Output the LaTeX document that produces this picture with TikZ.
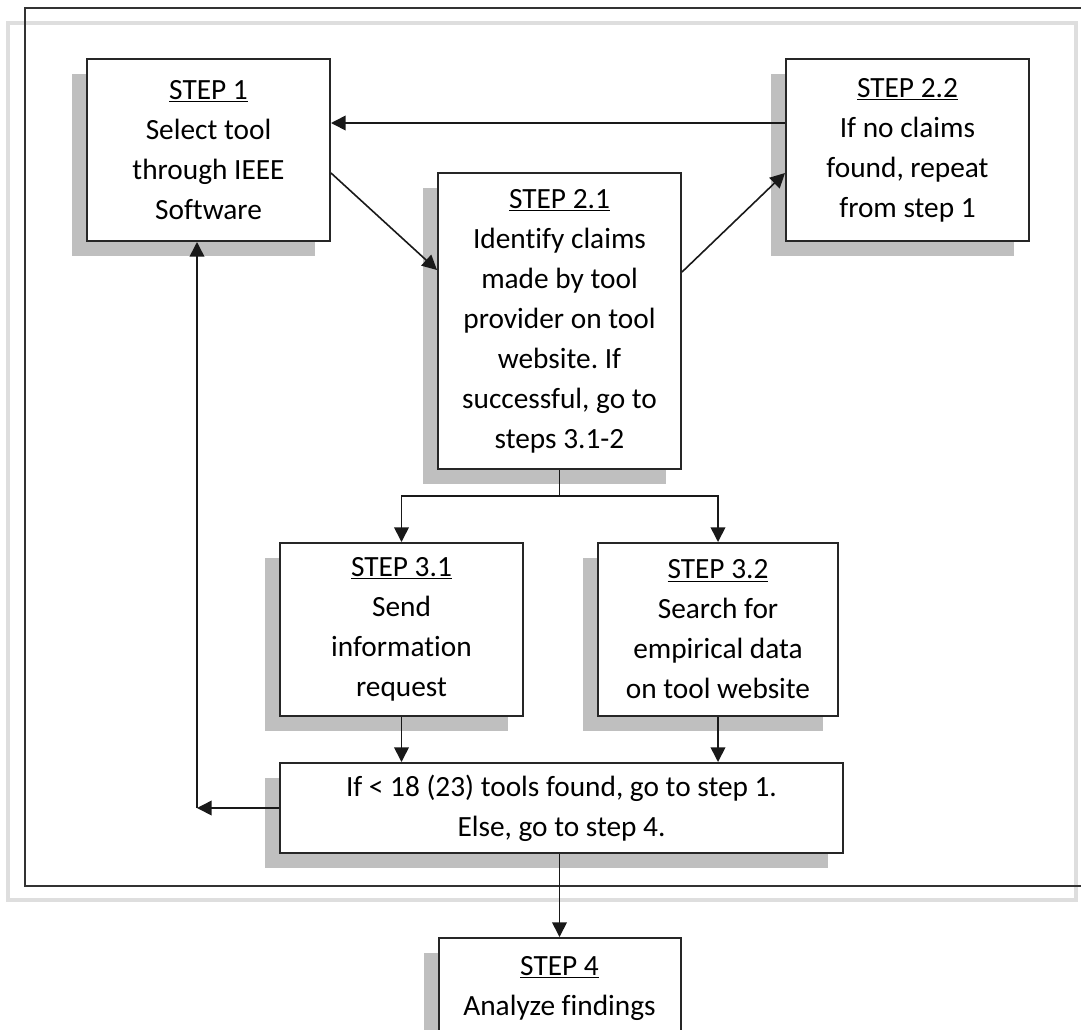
\documentclass[tikz,border=0pt]{standalone}
\usepackage{fontspec}
\setmainfont{Carlito}[Ligatures=CommonOff]
\usetikzlibrary{arrows.meta,shadows}
\frenchspacing

\begin{document}
\begin{tikzpicture}[x=0.75pt, y=-0.75pt]
\tikzset{ >={Triangle[length=11pt,width=11pt]},
  box/.style={draw=black!85, line width=1.5pt, fill=white, align=center, inner sep=0pt,
    font=\fontsize{22}{30}\selectfont,
    drop shadow={shadow xshift=-11.25pt, shadow yshift=-11.25pt, fill=black!25, opacity=1}},
  wire/.style={line width=1.2pt, black!90},
}

\useasboundingbox (0,0) rectangle (1081,1029);

% frames
\draw [black!13, line width=2.5pt] (8,23) rectangle (1076,900);
\draw [black!80, line width=1.6pt] (25,8) rectangle (1100,886);

\node [box, minimum width=182.25pt, minimum height=136.5pt] (S1) at (208.5,150)
  {\underline{STEP 1}\\Select tool\\through IEEE\\Software};
\node [box, minimum width=182.25pt, minimum height=136.5pt] (S22) at (907.5,150)
  {\underline{STEP 2.2}\\If no claims\\found, repeat\\from step 1};
\node [box, minimum width=182.25pt, minimum height=222pt] (S21) at (559.5,321)
  {\underline{STEP 2.1}\\Identify claims\\made by tool\\provider on tool\\website. If\\successful, go to\\steps 3.1-2};

\node [box, minimum width=182.25pt, minimum height=129.75pt] (S31) at (401.5,629.5)
  {\underline{STEP 3.1}\\Send\\information\\request};
\node [box, minimum width=180pt, minimum height=129.75pt] (S32) at (718,629.5)
  {\underline{STEP 3.2}\\Search for\\empirical data\\on tool website};

\node [box, minimum width=422.25pt, minimum height=67.5pt] (CHK) at (561.5,808)
  {If < 18 (23) tools found, go to step 1.\\Else, go to step 4.};
\node [box, minimum width=181.5pt, minimum height=75pt] (S4) at (559.5,988)
  {\underline{STEP 4}\\Analyze findings};

\coordinate (fork) at ([yshift=-19.5pt]S21.south);
\coordinate (ret) at (197,808);

\draw [wire, ->] ([yshift=20.25pt]S22.west) -- ([yshift=20.25pt]S1.east);
\draw [wire, ->] ([yshift=-17.25pt]S1.east) -- ([yshift=38.25pt]S21.west);
\draw [wire, ->] ([yshift=36.75pt]S21.east) -- ([yshift=-17.25pt]S22.west);

\draw [wire] (S21.south) -- (fork);
\draw [wire, ->] (fork) -| (S31.north);
\draw [wire, ->] (fork) -| (S32.north);

\draw [wire, ->] (S31.south) -- (S31.south |- CHK.north);
\draw [wire, ->] (S32.south) -- (S32.south |- CHK.north);

\draw [wire, ->] (CHK.west) -- (ret);
\draw [wire, ->] (ret) -- (ret |- S1.south);

\draw [wire, ->] (S4.north |- CHK.south) -- (S4.north);

\end{tikzpicture}
\end{document}
